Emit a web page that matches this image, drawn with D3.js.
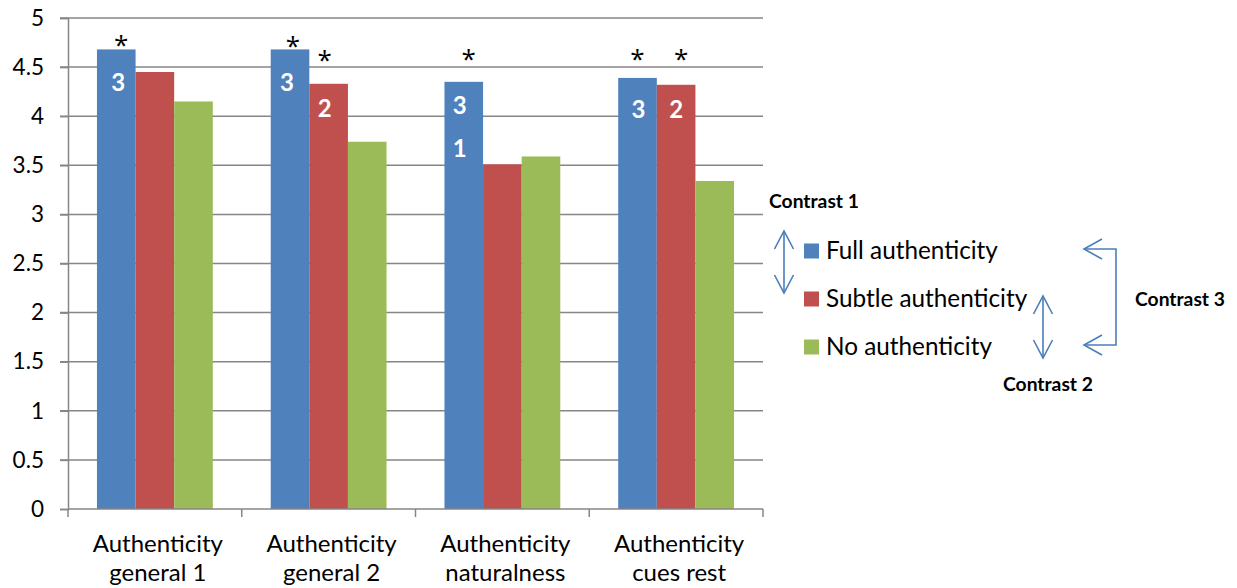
<!DOCTYPE html>
<html>
<head>
<meta charset="utf-8">
<script src="https://cdn.jsdelivr.net/npm/d3@7"></script>
<style>
  html, body { margin: 0; padding: 0; background: #fff; }
  svg { display: block; font-family: Lato, "Open Sans", sans-serif; }
</style>
</head>
<body>
<svg id="chart" width="1237" height="588"></svg>
<script>
// Mean ratings per item and condition
const categories = [
  ["Authenticity", "general 1"],
  ["Authenticity", "general 2"],
  ["Authenticity", "naturalness"],
  ["Authenticity", "cues rest"]
];
const seriesNames = ["Full authenticity", "Subtle authenticity", "No authenticity"];
const fullValues   = [4.68, 4.68, 4.35, 4.39];
const subtleValues = [4.45, 4.33, 3.51, 4.32];
const noValues     = [4.15, 3.74, 3.59, 3.34];
const yTicks = [0, 0.5, 1, 1.5, 2, 2.5, 3, 3.5, 4, 4.5, 5];

// Significance marks: category index, series index, symbol
const starMarks = [
  [0, 0, "*"], [1, 0, "*"], [1, 1, "*"], [2, 0, "*"], [3, 0, "*"], [3, 1, "*"]
];
// Contrast numbers written inside bars
const contrastMarks = [
  [0, 0, "3"], [1, 0, "3"], [1, 1, "2"], [2, 0, "3"], [2, 0, "1"], [3, 0, "3"], [3, 1, "2"]
];

const seriesValues = [fullValues, subtleValues, noValues];
const colors = ["#4f81bd", "#c0504d", "#9bbb59"];

// layout
const plot = { left: 68, right: 763, top: 18, bottom: 509 };
const starOffsets = [[-10, 5], [-9, 3], [-29, -4], [-28, 5], [-24, 0], [-31, 5]];       // [dy from bar top, dx]
const contrastOffsets = [[32, 2], [32, -3], [24, -4], [23, -4], [66, -4], [31, 1], [24, 0]];

const svg = d3.select("#chart");
const keys = categories.map((c, i) => i);

const x = d3.scaleBand().domain(keys).range([plot.left, plot.right]).paddingInner(0).paddingOuter(0);
const xs = d3.scaleBand().domain(d3.range(seriesNames.length)).range([0, x.bandwidth()]).paddingInner(0).paddingOuter(0.75);
const y = d3.scaleLinear().domain([0, 5]).range([plot.bottom, plot.top]);

const gridColor = "#868686";

// horizontal gridlines
svg.append("g")
  .selectAll("line")
  .data(yTicks.filter(t => t > 0))
  .join("line")
  .attr("x1", plot.left - 8).attr("x2", plot.right)
  .attr("y1", d => y(d)).attr("y2", d => y(d))
  .attr("stroke", gridColor).attr("stroke-width", 1.5);

// y axis
const yAxis = d3.axisLeft(y).tickValues(yTicks).tickSize(8).tickPadding(16).tickFormat(d3.format("~g"));
const yg = svg.append("g").attr("transform", `translate(${plot.left},0)`).call(yAxis);
yg.select(".domain").attr("stroke", gridColor).attr("stroke-width", 1.5);
yg.selectAll(".tick line").attr("stroke", gridColor).attr("stroke-width", 1.5);
yg.selectAll(".tick text").attr("font-size", 22.5).attr("fill", "#000").attr("font-family", "Lato");

// bars
const bars = svg.append("g");
categories.forEach((c, ci) => {
  seriesValues.forEach((vals, si) => {
    bars.append("rect")
      .attr("x", x(ci) + xs(si))
      .attr("y", y(vals[ci]))
      .attr("width", xs.bandwidth())
      .attr("height", y(0) - y(vals[ci]))
      .attr("fill", colors[si]);
  });
});

// x axis line with tick marks at category boundaries
const xg = svg.append("g");
xg.append("line")
  .attr("x1", plot.left).attr("x2", plot.right)
  .attr("y1", y(0)).attr("y2", y(0))
  .attr("stroke", gridColor).attr("stroke-width", 1.5);
const bounds = keys.map(k => x(k)).concat([x(keys[keys.length - 1]) + x.bandwidth()]);
xg.selectAll("line.tk").data(bounds).join("line").attr("class", "tk")
  .attr("x1", d => d).attr("x2", d => d)
  .attr("y1", y(0)).attr("y2", y(0) + 8)
  .attr("stroke", gridColor).attr("stroke-width", 1.5);

// category labels
categories.forEach((lines, ci) => {
  const t = xg.append("text")
    .attr("text-anchor", "middle")
    .attr("font-size", 24)
    .attr("fill", "#000");
  lines.forEach((ln, li) => {
    t.append("tspan")
      .attr("x", x(ci) + x.bandwidth() / 2 + 3)
      .attr("y", 552 + li * 29)
      .text(ln);
  });
});

// significance asterisks (baseline placed so the glyph centre sits at the offset)
const starSize = 26;
svg.append("g").selectAll("text").data(starMarks).join("text")
  .attr("x", (d, i) => x(d[0]) + xs(d[1]) + xs.bandwidth() / 2 + starOffsets[i][1])
  .attr("y", (d, i) => y(seriesValues[d[1]][d[0]]) + starOffsets[i][0] + starSize * 0.56)
  .attr("text-anchor", "middle")
  .attr("font-family", "'Open Sans', sans-serif")
  .attr("font-size", starSize)
  .attr("fill", "#000")
  .text(d => d[2]);

// contrast numbers inside bars
svg.append("g").selectAll("text").data(contrastMarks).join("text")
  .attr("x", (d, i) => x(d[0]) + xs(d[1]) + xs.bandwidth() / 2 + contrastOffsets[i][1])
  .attr("y", (d, i) => y(seriesValues[d[1]][d[0]]) + contrastOffsets[i][0])
  .attr("text-anchor", "middle")
  .attr("dominant-baseline", "central")
  .attr("font-size", 24)
  .attr("font-weight", "bold")
  .attr("fill", "#fff")
  .text(d => d[2]);

// legend
const legend = svg.append("g");
seriesNames.forEach((name, i) => {
  const cy = 251 + i * 48;
  legend.append("rect")
    .attr("x", 804).attr("y", cy - 7.5)
    .attr("width", 15).attr("height", 15)
    .attr("fill", colors[i]);
  legend.append("text")
    .attr("x", 826).attr("y", cy + 7.5)
    .attr("font-size", 24.3)
    .attr("fill", "#000")
    .text(name);
});

// contrast arrows
const arrowColor = "#4a7ebb";
const ag = svg.append("g").attr("fill", "none").attr("stroke", arrowColor).attr("stroke-width", 1.6);

function vArrow(cx, y1, y2) {
  ag.append("line").attr("x1", cx).attr("x2", cx).attr("y1", y1).attr("y2", y2);
  ag.append("path").attr("d", `M${cx - 9.5},${y1 + 18}L${cx},${y1}L${cx + 9.5},${y1 + 18}`);
  ag.append("path").attr("d", `M${cx - 9.5},${y2 - 18}L${cx},${y2}L${cx + 9.5},${y2 - 18}`);
}
vArrow(784, 231, 293);
vArrow(1043, 296, 358);

// bracket arrow between full and no authenticity
ag.append("path").attr("d", "M1084,249H1116V345H1084");
ag.append("path").attr("d", "M1102,239L1084,249L1102,259");
ag.append("path").attr("d", "M1102,335L1084,345L1102,355");

// contrast captions
const captions = [
  ["Contrast 1", 769, 208],
  ["Contrast 3", 1135, 306],
  ["Contrast 2", 1003, 391]
];
svg.append("g").selectAll("text").data(captions).join("text")
  .attr("x", d => d[1]).attr("y", d => d[2])
  .attr("font-size", 19.3)
  .attr("font-weight", "bold")
  .attr("fill", "#000")
  .text(d => d[0]);
</script>
</body>
</html>
